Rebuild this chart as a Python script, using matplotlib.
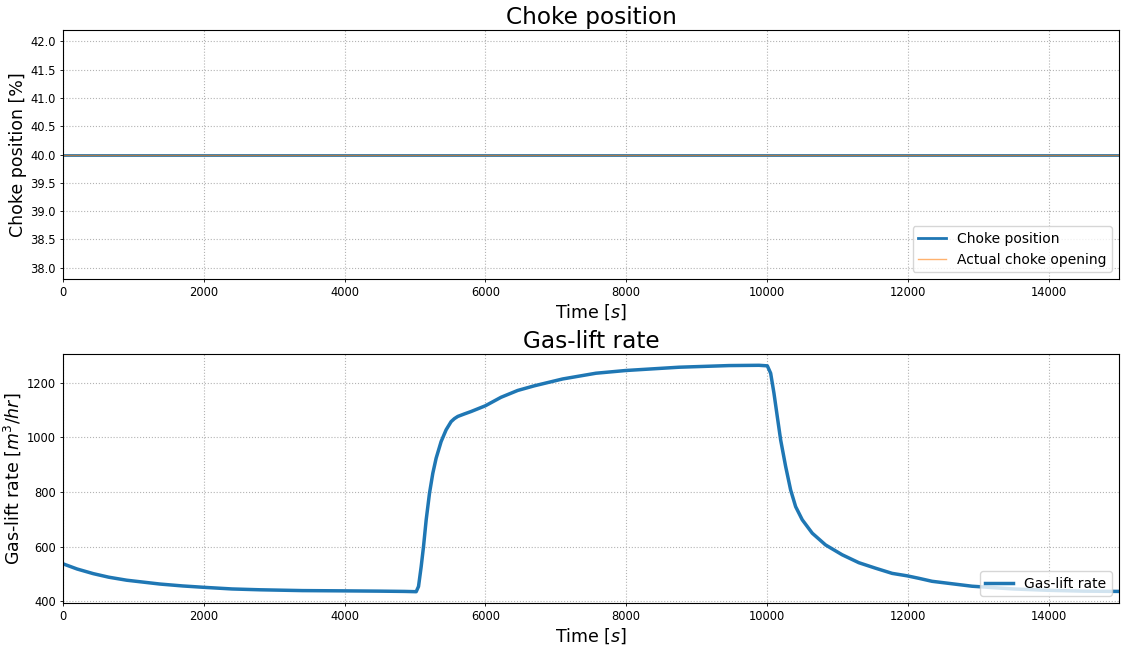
import matplotlib
matplotlib.use("Agg")
import matplotlib.pyplot as plt

# choke (constant over the run)
choke_t = [0, 15000]
choke_pos = [40.0, 40.0]
choke_actual = [40.0, 40.0]

# gas-lift rate
glr_t = [0, 200, 430, 650, 904, 1376, 1700, 2000, 2400, 2794, 3400, 4005,
         4500, 4851, 5017, 5050, 5088, 5121, 5159, 5206, 5253, 5300, 5371,
         5442, 5513, 5560, 5608, 5700, 5797, 6000, 6222, 6459, 6695, 7097,
         7570, 7996, 8752, 9461, 9887, 10005, 10052, 10099, 10146, 10194,
         10265, 10336, 10407, 10501, 10643, 10832, 11068, 11305, 11541,
         11778, 11991, 12156, 12345, 12913, 13500, 14000, 14500, 15000]
glr = [537, 518, 501, 488, 477, 463, 456, 451, 445, 442, 439, 438,
       437, 436, 435, 454, 527, 600, 698, 795, 868, 923, 984,
       1027, 1057, 1068, 1076, 1085, 1094, 1115, 1146, 1171, 1188, 1213,
       1234, 1244, 1256, 1262, 1263, 1261, 1234, 1161, 1076, 990,
       893, 807, 746, 698, 649, 606, 570, 541, 521,
       502, 493, 484, 473, 455, 445, 440, 437, 436]

fig, (ax1, ax2) = plt.subplots(2, 1, figsize=(11.21, 6.45), dpi=100)
fig.subplots_adjust(left=0.0562, right=0.9982, top=0.9535, bottom=0.0651,
                    hspace=0.301)

ax1.plot(choke_t, choke_pos, color="#1f77b4", lw=2, label="Choke position")
ax1.plot(choke_t, choke_actual, color="#ff7f0e", lw=1, alpha=0.6,
         label="Actual choke opening")
ax2.plot(glr_t, glr, color="#1f77b4", lw=2.5, label="Gas-lift rate")

for ax, title, ylab in ((ax1, "Choke position", "Choke position [%]"),
                        (ax2, "Gas-lift rate", "Gas-lift rate [$m^3/hr$]")):
    ax.set_title(title, fontsize=16.7, pad=4.3)
    ax.set_ylabel(ylab, fontsize=12.5, labelpad=2.5)
    ax.set_xlabel("Time [$s$]", fontsize=12.5, labelpad=2.5)
    ax.set_xlim(0, 15000)
    ax.grid(ls=":", color="0.7")
    ax.tick_params(labelsize=8.3, length=2.5, pad=2.5, width=0.6)
    ax.legend(loc="lower right", fontsize=10)

fig.savefig("out.png", dpi=100)
